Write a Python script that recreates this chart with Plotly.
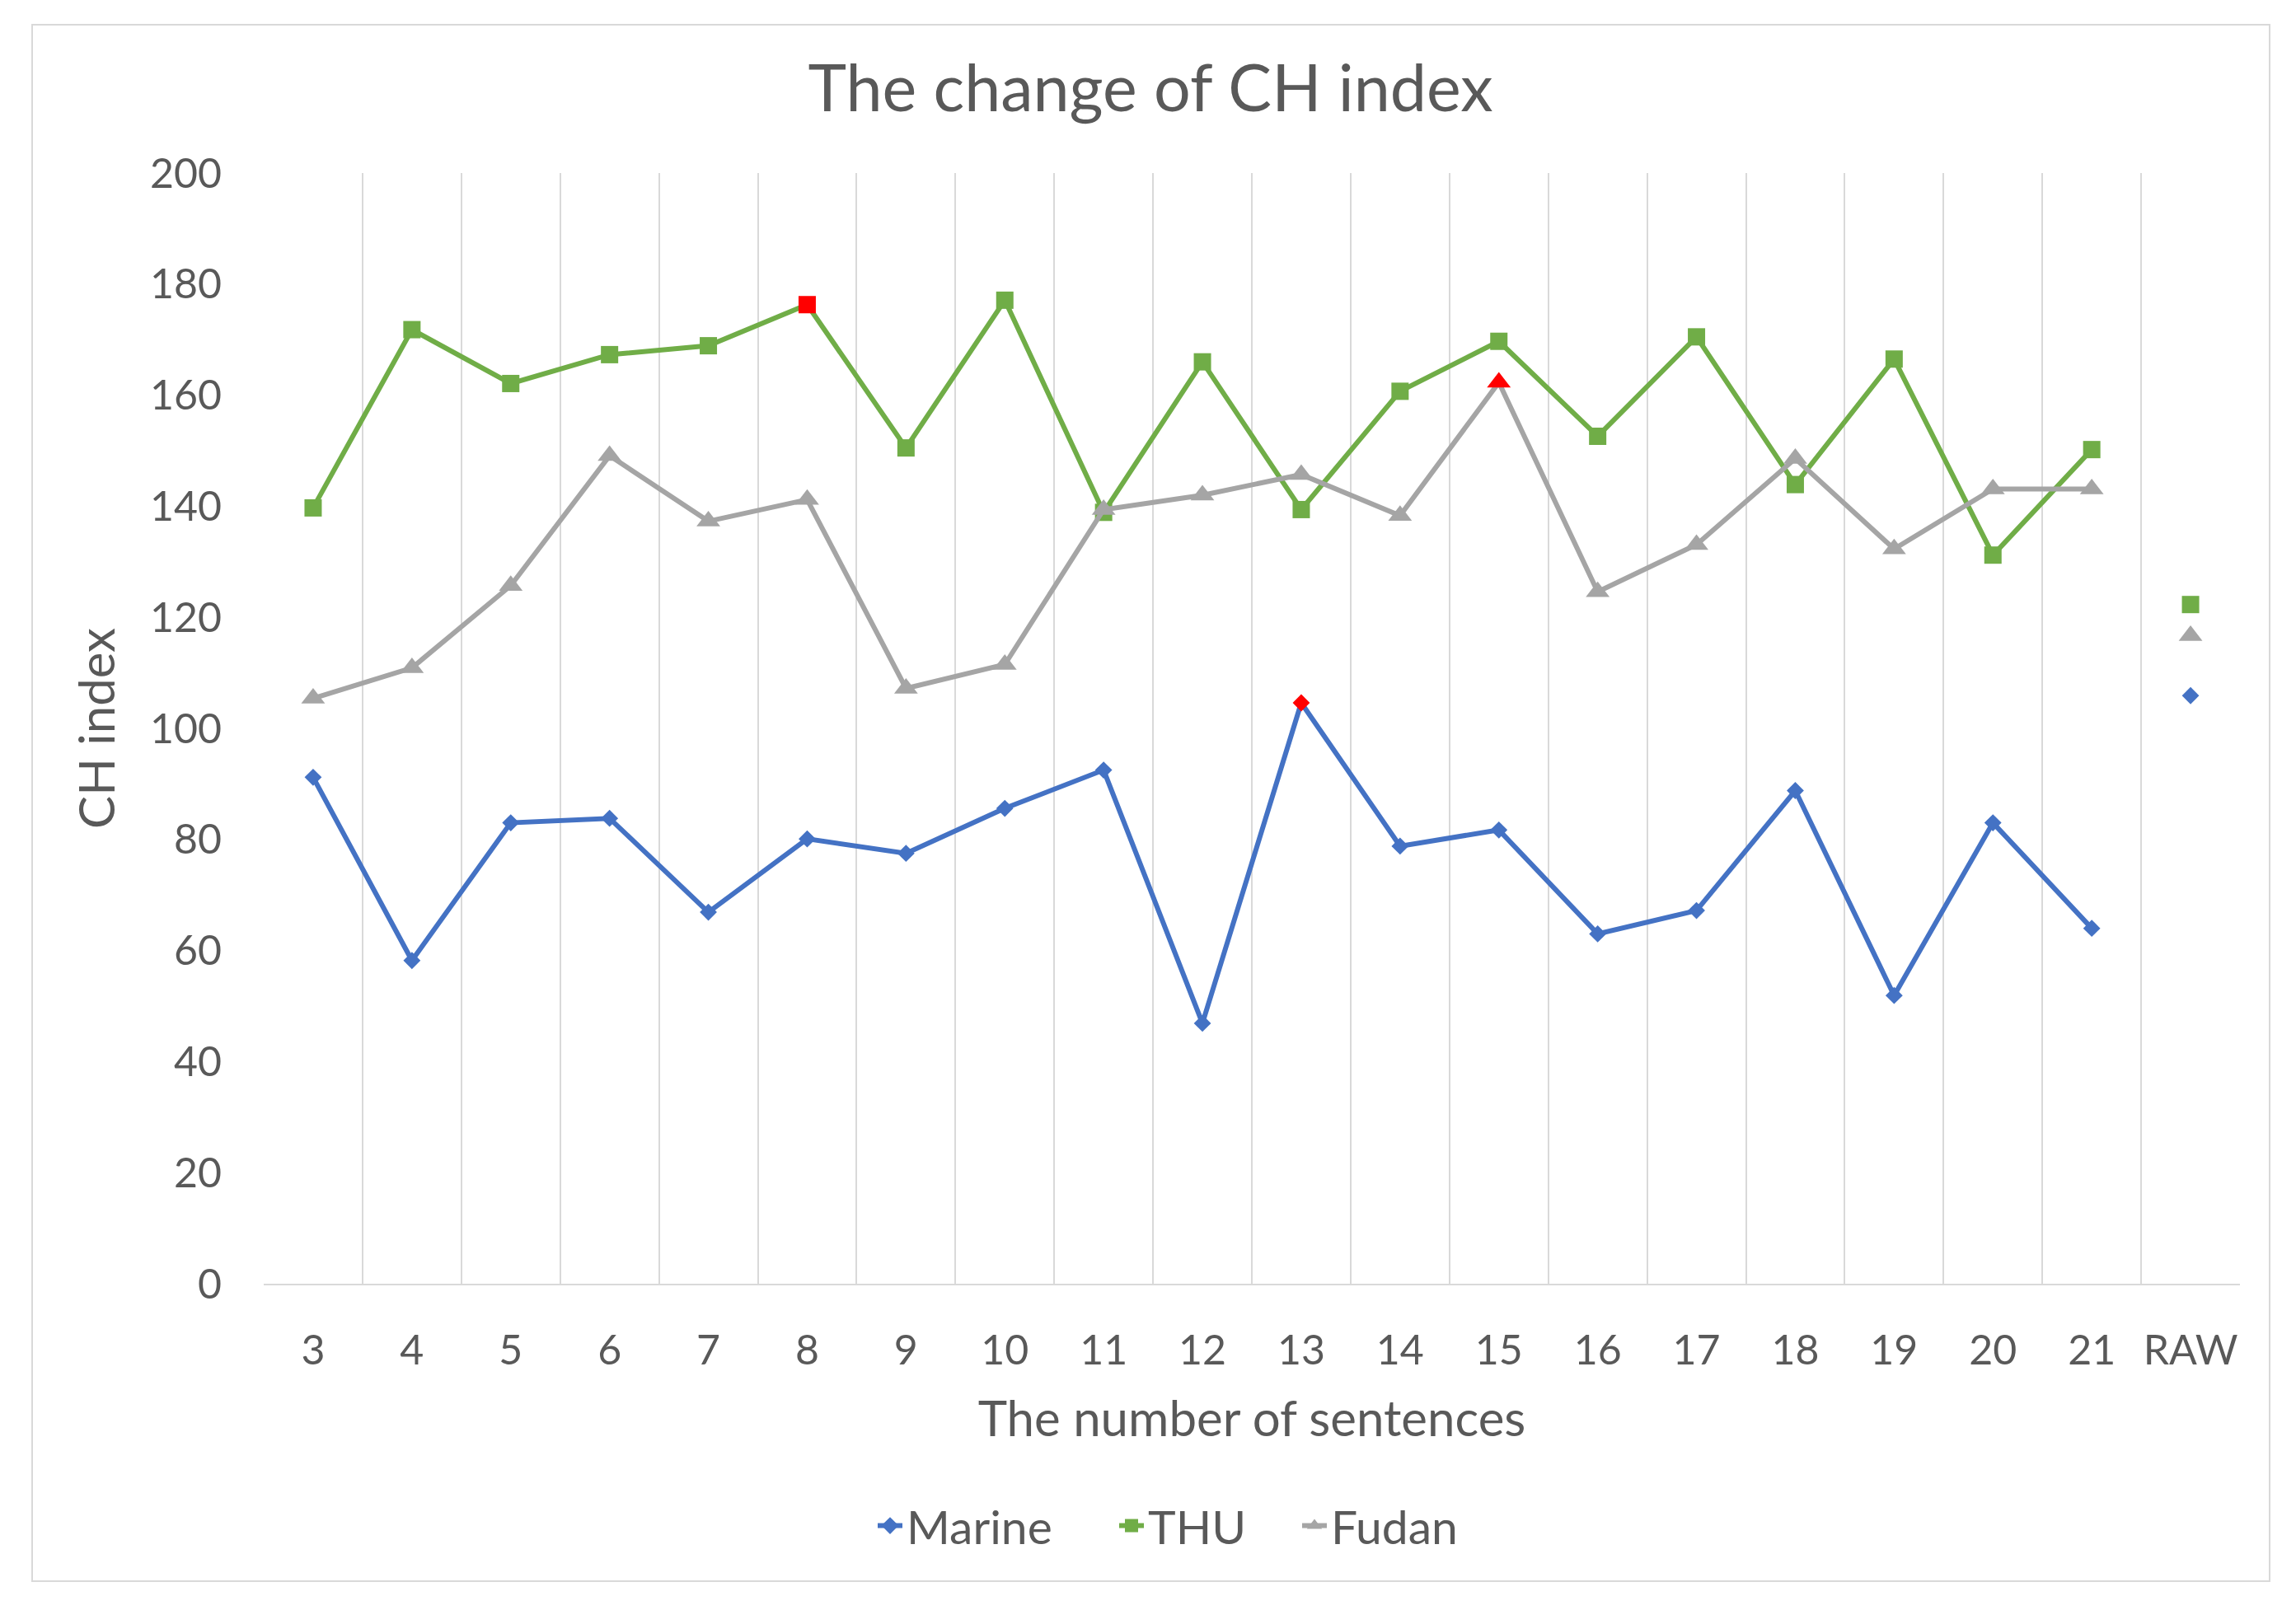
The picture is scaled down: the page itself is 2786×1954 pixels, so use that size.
import plotly.graph_objects as go

categories = ["3", "4", "5", "6", "7", "8", "9", "10", "11", "12", "13", "14",
              "15", "16", "17", "18", "19", "20", "21", "RAW"]
series_cats = categories[:-1]
raw_cat = categories[-1]

marine = [91.2, 58.2, 83.0, 83.8, 66.9, 80.1, 77.5, 85.6, 92.5, 46.9, 104.6,
          78.8, 81.7, 63.0, 67.2, 88.8, 51.9, 83.0, 64.0]
thu = [139.7, 171.8, 162.1, 167.3, 168.9, 176.3, 150.5, 177.1, 138.9, 166.0,
       139.4, 160.7, 169.7, 152.6, 170.5, 143.9, 166.5, 131.2, 150.2]
fudan = [105.4, 110.9, 125.7, 149.1, 137.3, 141.2, 107.2, 111.5, 139.4, 142.0,
         145.7, 138.3, 162.3, 124.6, 133.1, 148.6, 132.3, 143.1, 143.1]
raw_marine = 105.9
raw_thu = 122.3
raw_fudan = 116.7

# category at which each series is highlighted in red
highlight = {"Marine": "13", "THU": "8", "Fudan": "15"}

BLUE = "#4472C4"
GREEN = "#70AD47"
GRAY = "#A5A5A5"
RED = "#FF0000"
TEXT = "#595959"
GRID = "#D9D9D9"
FONT = "Lato, Calibri, Carlito, sans-serif"

W, H = 2786, 1954
L, R, T, B = 320, 68, 210, 396
pw = W - L - R
ph = H - T - B

fig = go.Figure()

# name, values, raw value, colour, symbol, marker size, legend id, legend left (px)
specs = [
    ("Marine", marine, raw_marine, BLUE, "diamond", 16, "legend", 1060),
    ("THU", thu, raw_thu, GREEN, "square", 21, "legend2", 1353),
    ("Fudan", fudan, raw_fudan, GRAY, "triangle-up", 25, "legend3", 1575),
]

for name, vals, raw, color, sym, size, lg, lx in specs:
    mcolors = [RED if c == highlight[name] else color for c in series_cats]
    fig.add_trace(go.Scatter(
        x=series_cats, y=vals, name=name, mode="lines+markers", legend=lg,
        line=dict(color=color, width=6),
        marker=dict(symbol=sym, size=size, color=mcolors, line=dict(width=0)),
    ))

for name, vals, raw, color, sym, size, lg, lx in specs:
    fig.add_trace(go.Scatter(
        x=[raw_cat], y=[raw], name=name, mode="markers", showlegend=False,
        marker=dict(symbol=sym, size=size, color=color, line=dict(width=0)),
    ))

legend_y = -(1852 - (H - B)) / ph
legends = {}
for name, vals, raw, color, sym, size, lg, lx in specs:
    legends[lg] = dict(orientation="h", x=(lx - L) / pw, xanchor="left",
                       y=legend_y, yanchor="middle",
                       font=dict(size=57, color=TEXT, family=FONT),
                       bgcolor="rgba(0,0,0,0)", borderwidth=0)

fig.update_layout(
    width=W, height=H,
    margin=dict(l=L, r=R, t=T, b=B, pad=0),
    paper_bgcolor="white", plot_bgcolor="white",
    font=dict(family=FONT, color=TEXT, size=50),
    title=dict(text="The change of CH index", x=1396 / W, xref="container",
               xanchor="center", y=1 - 107 / H, yref="container",
               yanchor="middle", font=dict(size=79, color=TEXT, family=FONT)),
    showlegend=True,
    **legends,
    xaxis=dict(type="category", categoryorder="array", categoryarray=categories,
               tickson="boundaries", showgrid=True, gridcolor=GRID, gridwidth=2,
               showline=True, linecolor=GRID, linewidth=2, ticks="",
               tickangle=0,
               tickfont=dict(size=50, color=TEXT), ticklabelstandoff=36,
               title=dict(text="The number of sentences",
                          font=dict(size=60, color=TEXT), standoff=35),
               zeroline=False, range=[-0.5, 19.5], fixedrange=True),
    yaxis=dict(range=[0, 200], dtick=20, showgrid=False, showline=False,
               zeroline=False, ticks="", tickfont=dict(size=50, color=TEXT),
               ticklabelstandoff=50,
               title=dict(text="CH index", font=dict(size=60, color=TEXT),
                          standoff=22)),
    shapes=[dict(type="rect", xref="paper", yref="paper",
                 x0=(39 - L) / pw, x1=(2754 - L) / pw,
                 y0=-(1919 - (H - B)) / ph, y1=(H - B - 30) / ph,
                 line=dict(color=GRID, width=2), fillcolor="rgba(0,0,0,0)",
                 layer="below")],
)

fig.write_html("out.html", config={"displayModeBar": False},
               post_script="document.body.style.margin='0';")
